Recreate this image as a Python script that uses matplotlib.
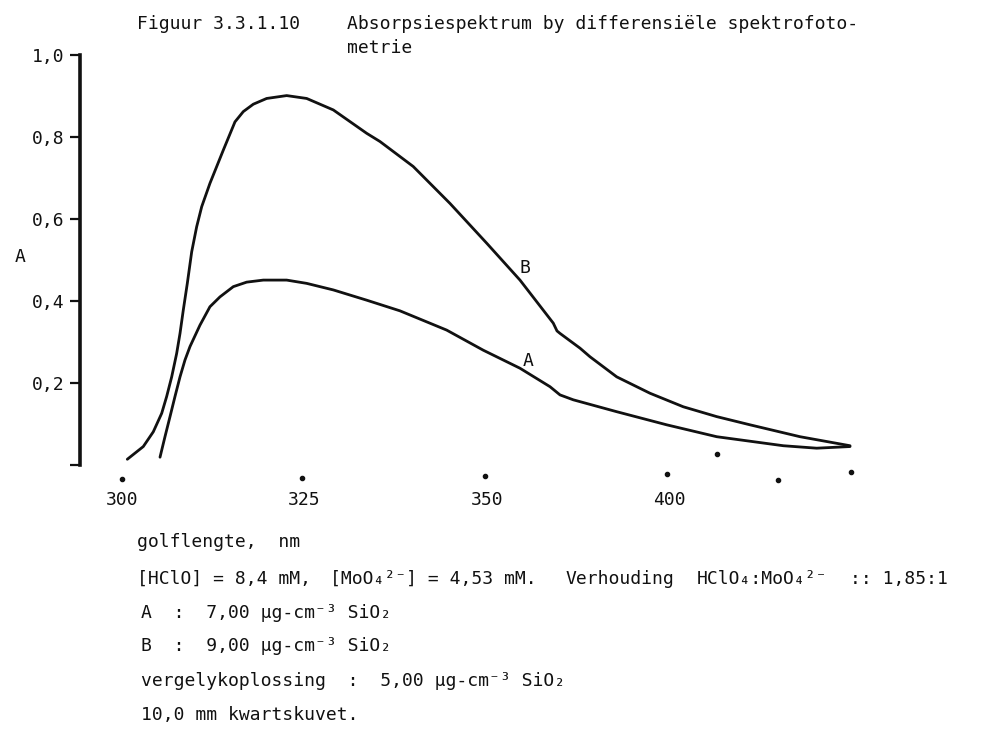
import matplotlib.pyplot as plt

plt.rcParams['font.family'] = ['DejaVu Sans Mono', 'DejaVu Sans']

# curve B (9,00 ug/cm3)
wl_B = [300.73, 302.92, 304.29, 305.44, 306.12, 306.81, 307.49, 307.95, 308.40, 308.95,
        309.55, 310.23, 310.92, 312.05, 313.88, 315.48, 316.62, 317.99, 319.82, 322.56,
        325.30, 328.95, 333.52, 335.34, 339.90, 344.93, 349.96, 354.52, 359.08, 359.59,
        360.00, 362.74, 364.11, 367.77, 372.33, 376.89, 381.47, 386.03, 392.88, 399.73]
abs_B = [0.014, 0.045, 0.081, 0.126, 0.167, 0.215, 0.272, 0.321, 0.378, 0.443,
         0.520, 0.581, 0.630, 0.687, 0.768, 0.837, 0.862, 0.880, 0.894, 0.901,
         0.894, 0.866, 0.809, 0.789, 0.728, 0.638, 0.541, 0.451, 0.346, 0.327,
         0.321, 0.285, 0.264, 0.215, 0.175, 0.142, 0.118, 0.098, 0.069, 0.047]

# curve A (7,00 ug/cm3)
wl_A = [305.21, 305.89, 306.58, 307.26, 307.95, 308.63, 309.32, 310.68, 312.05, 313.42,
        315.25, 317.08, 319.36, 322.56, 325.30, 328.95, 333.52, 338.08, 344.48, 349.49,
        354.52, 358.63, 360.00, 361.82, 367.77, 374.62, 381.47, 390.59, 395.16, 399.73]
abs_A = [0.019, 0.069, 0.118, 0.167, 0.215, 0.256, 0.289, 0.341, 0.386, 0.410,
         0.435, 0.446, 0.451, 0.451, 0.443, 0.427, 0.402, 0.376, 0.329, 0.280,
         0.236, 0.191, 0.171, 0.159, 0.130, 0.098, 0.069, 0.047, 0.041, 0.045]

# x ticks: the scan labels the 4th mark "400"
xtick_pos = [300, 325, 350, 375]
xtick_lab = ['300', '325', '350', '400']
ytick_pos = [0, 0.2, 0.4, 0.6, 0.8, 1.0]
ytick_lab = ['', '0,2', '0,4', '0,6', '0,8', '1,0']

# the dots under the curves (tick marks + stray ones)
dot_x = [300, 324.7, 349.7, 374.7, 381.5, 389.9, 399.9]
dot_y = [-0.034, -0.032, -0.027, -0.022, 0.027, -0.037, -0.017]

fig = plt.figure(figsize=(9.82, 7.30), dpi=100)
ax = fig.add_axes([80/982, 1 - 465/730, 786.6/982, 410/730])
ink = '#111111'

ax.plot(wl_B, abs_B, color=ink, lw=2.0, solid_capstyle='round', solid_joinstyle='round', clip_on=False)
ax.plot(wl_A, abs_A, color=ink, lw=2.0, solid_capstyle='round', solid_joinstyle='round', clip_on=False)
ax.scatter(dot_x, dot_y, s=9, color=ink, clip_on=False, zorder=3)

ax.text(355.2, 0.480, 'B', fontsize=13, ha='center', va='center', color=ink)
ax.text(355.6, 0.253, 'A', fontsize=13, ha='center', va='center', color=ink)

ax.set_xlim(294.25, 402)
ax.set_ylim(0, 1.0)
for s in ['top', 'right', 'bottom']:
    ax.spines[s].set_visible(False)
ax.spines['left'].set_linewidth(2.6)
ax.spines['left'].set_color(ink)

ax.set_xticks(xtick_pos)
ax.set_xticklabels(xtick_lab)
ax.set_yticks(ytick_pos)
ax.set_yticklabels(ytick_lab)
ax.tick_params(axis='x', length=0, pad=19, labelsize=13, colors=ink)
ax.tick_params(axis='y', direction='out', length=7, width=1.6, pad=4, labelsize=13, colors=ink)

fig.text(15/982, 1 - 257/730, 'A', fontsize=13, ha='left', va='center', color=ink)

# title
fig.text(137/982, 1 - 29/730, 'Figuur 3.3.1.10', fontsize=13, va='baseline', color=ink)
fig.text(347/982, 1 - 29/730, 'Absorpsiespektrum by differensiële spektrofoto-',
         fontsize=13, va='baseline', color=ink)
fig.text(347/982, 1 - 53/730, 'metrie', fontsize=13, va='baseline', color=ink)

# notes under the chart (typed pieces placed where they sit in the scan)
notes = [
    (137, 547, 'golflengte,  nm'),
    (137, 584, '[HClO] = 8,4 mM,'),
    (330, 584, '[MoO₄²⁻] = 4,53 mM.'),
    (565, 584, 'Verhouding'),
    (697, 584, 'HClO₄:MoO₄²⁻'),
    (850, 584, ':: 1,85:1'),
    (141, 618, 'A  :  7,00 µg-cm⁻³ SiO₂'),
    (141, 651, 'B  :  9,00 µg-cm⁻³ SiO₂'),
    (141, 686, 'vergelykoplossing  :  5,00 µg-cm⁻³ SiO₂'),
    (141, 720, '10,0 mm kwartskuvet.'),
]
for x, y, t in notes:
    fig.text(x/982, 1 - y/730, t, fontsize=13, va='baseline', color=ink)

fig.savefig('out.png', dpi=100, facecolor='white')
